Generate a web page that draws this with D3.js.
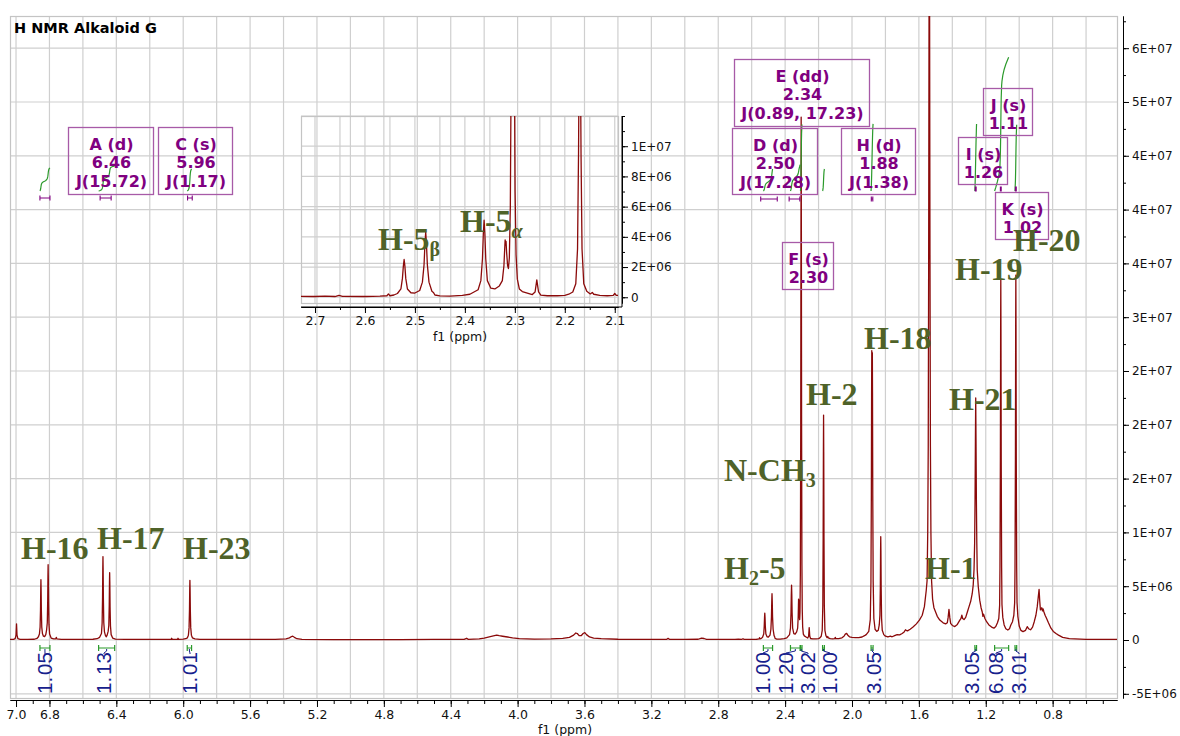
<!DOCTYPE html>
<html lang="en">
<head>
<meta charset="utf-8">
<title>H NMR Alkaloid G</title>
<script src="https://cdn.jsdelivr.net/npm/d3@7"></script>
<style>
  html, body { margin: 0; padding: 0; background: #ffffff; }
  svg { display: block; }
</style>
</head>
<body>
<svg id="chart" width="1180" height="736"></svg>
<script>
// ---------------- data ----------------
// 1H spectrum trace: [chemical shift (ppm), intensity (x 1e6)], high field to the right
const spectrum = [
  [7.036,0.05],[7.015,0.06],[7.005,0.12],[7.0,0.45],[6.997,1.5],[6.994,0.45],[6.989,0.12],[6.975,0.06],[6.93,0.05],[6.89,0.07],
  [6.875,0.14],[6.866,0.3],[6.86,0.55],[6.856,1.2],[6.8535,2.8],[6.852,4.8],[6.851,5.6],[6.85,4.8],[6.8485,2.8],[6.846,1.2],
  [6.842,0.6],[6.836,0.35],[6.829,0.32],[6.822,0.5],[6.817,0.95],[6.813,1.6],[6.8105,3.6],[6.809,6.0],[6.808,7.0],[6.807,6.0],
  [6.8055,3.5],[6.803,1.45],[6.799,0.55],[6.79,0.18],[6.775,0.1],[6.762,0.1],[6.759,0.25],[6.756,0.1],[6.73,0.06],[6.62,0.05],[6.54,0.07],
  [6.515,0.12],[6.5,0.25],[6.489,0.6],[6.485,1.55],[6.4825,3.9],[6.481,6.7],[6.48,7.75],[6.479,6.7],[6.4775,3.9],[6.475,1.6],
  [6.471,0.75],[6.465,0.4],[6.46,0.3],[6.455,0.45],[6.449,0.8],[6.445,1.35],[6.4425,3.15],[6.441,5.4],[6.44,6.25],[6.439,5.4],
  [6.4375,3.1],[6.435,1.3],[6.431,0.5],[6.422,0.18],[6.405,0.08],[6.35,0.06],
  [6.2,0.05],[6.08,0.05],[6.072,0.06],[6.069,0.16],[6.066,0.06],[6.034,0.06],[6.031,0.16],[6.028,0.06],[6.0,0.08],
  [5.985,0.12],[5.975,0.2],[5.969,0.45],[5.965,1.15],[5.9625,2.8],[5.961,4.8],[5.96,5.55],[5.959,4.8],[5.9575,2.8],[5.955,1.15],
  [5.951,0.45],[5.945,0.2],[5.93,0.1],[5.9,0.06],
  [5.8,0.05],[5.6,0.05],[5.45,0.06],[5.385,0.1],[5.365,0.2],[5.352,0.32],[5.345,0.35],[5.335,0.25],[5.32,0.12],[5.29,0.06],
  [5.1,0.04],[4.9,0.03],[4.7,0.04],[4.5,0.05],[4.32,0.06],[4.305,0.16],[4.295,0.06],[4.23,0.1],[4.2,0.18],[4.17,0.3],
  [4.145,0.38],[4.125,0.45],[4.11,0.4],[4.09,0.35],[4.06,0.28],[4.03,0.2],[3.99,0.12],[3.9,0.08],[3.8,0.1],[3.73,0.15],
  [3.69,0.25],[3.665,0.45],[3.652,0.65],[3.643,0.6],[3.632,0.4],[3.62,0.4],[3.608,0.6],[3.598,0.68],[3.588,0.5],[3.57,0.28],
  [3.545,0.18],[3.5,0.12],[3.4,0.07],[3.25,0.05],[3.11,0.05],[3.1,0.15],[3.09,0.05],[3.0,0.05],[2.92,0.07],[2.9,0.18],
  [2.885,0.14],[2.87,0.06],[2.78,0.05],[2.74,0.06],[2.7,0.05],[2.68,0.08],[2.66,0.05],[2.652,0.12],[2.645,0.06],[2.6,0.05],[2.57,0.07],
  [2.556,0.1],[2.553,0.22],[2.55,0.1],[2.542,0.15],[2.535,0.25],[2.528,0.55],[2.525,1.25],[2.5231,2.08],[2.5216,2.5],[2.5201,2.08],
  [2.5183,1.25],[2.515,0.55],[2.508,0.3],[2.5,0.28],[2.4904,0.45],[2.485,1.0],[2.4817,2.15],[2.4799,3.55],[2.4784,4.3],[2.4769,3.55],
  [2.4751,2.15],[2.4718,1.0],[2.466,0.4],[2.463,0.32],[2.46,0.15],[2.45,0.09],[2.43,0.08],[2.405,0.12],[2.39,0.2],
  [2.3735,0.5],[2.368,1.1],[2.3648,2.55],[2.363,4.25],[2.3615,5.1],[2.36,4.25],[2.3582,2.55],[2.355,1.1],[2.348,0.6],[2.34,0.55],
  [2.331,0.75],[2.325,1.1],[2.3218,2.1],[2.3203,3.2],[2.3194,3.8],[2.3185,3.45],[2.3176,3.7],[2.3165,3.0],[2.3145,2.1],[2.3128,1.9],
  [2.311,2.6],[2.309,6.0],[2.3065,20],[2.3052,38],[2.304,48.6],[2.3028,38],[2.3015,20],[2.2995,7],[2.2975,2.8],[2.295,1.2],
  [2.291,0.55],[2.285,0.38],[2.275,0.28],[2.265,0.18],[2.2595,0.35],[2.2575,0.8],[2.256,1.15],[2.2545,0.8],[2.2525,0.35],[2.248,0.14],
  [2.235,0.1],[2.215,0.1],[2.2,0.13],
  [2.192,0.2],[2.184,0.35],[2.178,0.9],[2.1745,3.2],[2.1725,9.5],[2.171,17.5],[2.17,20.9],[2.169,17.5],[2.1675,9.5],[2.1655,3.2],
  [2.162,0.9],[2.156,0.4],[2.149,0.22],[2.145,0.32],[2.142,0.2],[2.13,0.12],[2.115,0.1],[2.103,0.12],[2.1,0.25],[2.097,0.12],
  [2.08,0.13],[2.06,0.2],[2.048,0.35],[2.04,0.55],[2.032,0.62],[2.025,0.45],[2.015,0.3],[2.0,0.25],[1.98,0.22],[1.96,0.22],
  [1.94,0.28],[1.925,0.4],
  [1.915,0.5],[1.8997,0.8],[1.8907,1.9],[1.8867,5.4],[1.8842,13.5],[1.8827,23],[1.8817,26.9],[1.88,26.2],[1.8783,26.7],[1.8773,23],
  [1.8758,13.5],[1.8733,5.4],[1.8693,2.0],[1.862,1.0],[1.852,0.8],[1.843,0.9],[1.837,1.4],[1.833,2.3],[1.8305,4.8],[1.829,8.3],
  [1.828,9.6],[1.827,8.3],[1.8255,4.8],[1.823,2.0],[1.819,0.9],[1.81,0.5],[1.8,0.35],[1.785,0.28],[1.77,0.35],[1.76,0.3],
  [1.745,0.4],[1.73,0.5],[1.715,0.48],[1.7,0.6],[1.688,0.75],[1.68,0.95],[1.676,0.9],[1.668,0.85],[1.652,1.0],[1.635,1.2],
  [1.615,1.5],[1.597,1.85],[1.58,2.3],[1.567,3.1],[1.556,4.6],
  [1.551,5.5],[1.547,10],[1.544,18],[1.5415,35],[1.5395,55],[1.5375,75],[1.5355,55],[1.5335,35],[1.531,18],[1.528,10],
  [1.524,5.5],[1.518,3.8],[1.51,3.0],[1.5,2.6],[1.49,2.2],[1.475,1.85],[1.455,1.6],[1.44,1.5],[1.43,1.6],[1.425,2.1],
  [1.42,2.85],[1.415,2.1],[1.41,1.55],[1.4,1.35],[1.385,1.25],[1.37,1.45],[1.355,1.85],[1.348,2.0],[1.343,2.3],[1.338,2.0],
  [1.33,1.9],[1.32,2.1],[1.31,2.6],[1.3,3.1],[1.29,3.6],[1.281,4.3],[1.275,5.1],[1.27,6.6],[1.2665,9],[1.264,13],
  [1.2618,18.5],[1.26,22.5],[1.2582,18.5],[1.256,13],[1.2535,9],[1.251,6.5],[1.245,5.0],[1.236,3.7],[1.228,3.0],[1.221,2.6],
  [1.217,2.2],[1.213,2.4],[1.205,2.0],[1.195,1.7],[1.181,1.4],[1.165,1.2],[1.151,1.1],[1.14,1.25],[1.13,1.6],
  [1.122,2.0],[1.117,3.2],[1.115,6.7],[1.1125,16.8],[1.111,28.8],[1.11,33.5],[1.109,28.8],[1.1075,16.8],[1.105,6.7],[1.103,3.3],
  [1.098,2.1],[1.09,1.4],[1.08,1.05],[1.068,0.93],[1.058,1.05],[1.05,1.4],[1.04,1.7],[1.032,2.3],[1.027,3.5],[1.025,6.7],
  [1.0225,17],[1.021,29.2],[1.02,33.9],[1.019,29.2],[1.0175,17],[1.015,6.7],[1.013,3.5],[1.008,2.2],[1.0,1.3],[0.99,0.9],
  [0.977,0.78],[0.962,0.9],[0.952,1.24],[0.944,1.05],[0.932,0.95],[0.92,1.2],[0.91,1.7],[0.9,2.3],[0.892,3.1],[0.886,4.0],
  [0.881,4.7],[0.877,3.6],[0.873,2.8],[0.869,2.9],[0.865,3.0],[0.861,2.7],[0.857,2.9],[0.852,2.6],[0.845,2.3],[0.836,2.0],
  [0.825,1.6],[0.81,1.1],[0.796,0.8],[0.78,0.6],[0.765,0.45],[0.74,0.25],[0.7,0.12],[0.6,0.06],[0.5,0.05],[0.415,0.05]
];

// axis ticks
const xTickValues = [7.0, 6.8, 6.4, 6.0, 5.6, 5.2, 4.8, 4.4, 4.0, 3.6, 3.2, 2.8, 2.4, 2.0, 1.6, 1.2, 0.8];
const yTickValues = [-5, 0, 5, 10, 15, 20, 25, 30, 35, 40, 45, 50, 55];
const yTickLabels = ["-5E+06", "0", "5E+06", "1E+07", "2E+07", "2E+07", "2E+07", "3E+07", "4E+07", "4E+07", "4E+07", "5E+07", "6E+07"];
const insetXTickValues = [2.7, 2.6, 2.5, 2.4, 2.3, 2.2, 2.1];
const insetYTickValues = [0, 2, 4, 6, 8, 10];
const insetYTickLabels = ["0", "2E+06", "4E+06", "6E+06", "8E+06", "1E+07"];

// multiplet analysis (J in Hz)
const multiplets = [
  { id: "A", mult: "d",  shift: 6.46, J: [15.72] },
  { id: "C", mult: "s",  shift: 5.96, J: [1.17] },
  { id: "E", mult: "dd", shift: 2.34, J: [0.89, 17.23] },
  { id: "D", mult: "d",  shift: 2.50, J: [17.28] },
  { id: "H", mult: "d",  shift: 1.88, J: [1.38] },
  { id: "F", mult: "s",  shift: 2.30, J: [] },
  { id: "J", mult: "s",  shift: 1.11, J: [] },
  { id: "I", mult: "s",  shift: 1.26, J: [] },
  { id: "K", mult: "s",  shift: 1.02, J: [] }
];
// multiplet ranges (ppm)
const multipletRanges = [
  [6.857, 6.797], [6.497, 6.431], [5.974, 5.946], [2.546, 2.447], [2.376, 2.312],
  [1.8845, 1.8755], [1.2625, 1.2575], [1.1125, 1.1075], [1.0225, 1.0175]
];

// integrals
const integralValues = [1.05, 1.13, 1.01, 1.00, 1.20, 3.02, 1.00, 3.05, 3.05, 6.08, 3.01];
const integralRanges = [
  [6.857, 6.797], [6.506, 6.410], [5.976, 5.950], [2.530, 2.475], [2.368, 2.310], [2.308, 2.299],
  [2.176, 2.165], [1.886, 1.874], [1.265, 1.255], [1.147, 1.063], [1.025, 1.015]
];

// proton assignments
const assignmentMain = ["H-16", "H-17", "H-23", "N-CH|3", "H|2|-5", "H-2", "H-18", "H-21", "H-1", "H-19", "H-20"];
const assignmentInset = ["H-5|β", "H-5|α"];

// ---------------- layout ----------------
const svg = d3.select("#chart");
const plot = { left: 10, right: 1117, top: 16, bottom: 698 };
const inset = { left: 301, right: 618, top: 116, bottom: 303 };

const boxLayout = {
  A: [68, 127, 153, 194], C: [158, 127, 232, 194], E: [734, 59, 869, 126],
  D: [732, 128, 817, 194], H: [841, 128, 915, 194], F: [782, 242, 833, 289],
  J: [983, 88, 1032, 135], I: [958, 137, 1007, 184], K: [995, 192, 1048, 239]
};
const rangeBarY = [198, 198, 198, 199, 199, 199, 189, 189, 189];
const integralTextX = [45, 104, 190, 763, 786, 808, 830, 874, 972, 996, 1019];
const mainLabelPos = [[21, 559], [97, 549], [183, 559], [724, 481], [724, 579], [806, 405],
                      [864, 349], [949, 410], [925, 579], [955, 280], [1013, 251]];
const insetLabelPos = [[378, 250], [460, 232]];

const COLORS = {
  trace: "#8b0a0a", grid: "#cfcfcf", frame: "#c4c4c4", axis: "#000",
  purple: "#800080", boxLine: "#a75aa7", green: "#2b9a2b", blue: "#16208c", olive: "#4f6228"
};
const AXIS_FONT = "'DejaVu Sans', Verdana, sans-serif";
const SERIF = "'Liberation Serif', 'Times New Roman', serif";

// ---------------- scales ----------------
const x = d3.scaleLinear().domain([7.036, 0.415]).range([plot.left, plot.right]);
const y = d3.scaleLinear().domain([-5.39, 57.99]).range([plot.bottom, plot.top]);
const xi = d3.scaleLinear().domain([2.728, 2.0935]).range([inset.left, inset.right]);
const yi = d3.scaleLinear().domain([-0.38, 12.0]).range([inset.bottom, inset.top]);

const defs = svg.append("defs");
defs.append("clipPath").attr("id", "clipMain").append("rect")
  .attr("x", plot.left).attr("y", plot.top).attr("width", plot.right - plot.left).attr("height", plot.bottom - plot.top);
defs.append("clipPath").attr("id", "clipInset").append("rect")
  .attr("x", inset.left).attr("y", inset.top).attr("width", inset.right - inset.left).attr("height", inset.bottom - inset.top);

// ---------------- main grid ----------------
const gridX = d3.range(0, 33).map(k => +(7.0 - 0.2 * k).toFixed(1));
const gridY = d3.range(-5, 56, 5);
const grid = svg.append("g");
grid.selectAll("line.v").data(gridX).join("line")
  .attr("x1", d => x(d)).attr("x2", d => x(d)).attr("y1", plot.top).attr("y2", plot.bottom)
  .attr("stroke", COLORS.grid).attr("stroke-width", 1.2);
grid.selectAll("line.h").data(gridY).join("line")
  .attr("x1", plot.left).attr("x2", plot.right).attr("y1", d => y(d)).attr("y2", d => y(d))
  .attr("stroke", COLORS.grid).attr("stroke-width", 1.2);
svg.append("rect").attr("x", plot.left + 0.5).attr("y", plot.top + 0.5)
  .attr("width", plot.right - plot.left).attr("height", plot.bottom - plot.top)
  .attr("fill", "none").attr("stroke", COLORS.frame).attr("stroke-width", 1.2);

// ---------------- main axes ----------------
function styleAxis(g, size) {
  g.selectAll("text").attr("font-family", AXIS_FONT).attr("font-size", size).attr("fill", "#111");
  g.selectAll("line").attr("stroke", COLORS.axis);
  g.select(".domain").attr("stroke", COLORS.axis);
}
const minorX = d3.range(0, 67).map(k => +(7.0 - 0.1 * k).toFixed(1)).filter(v => v >= 0.42);
svg.append("g").attr("transform", `translate(0,${plot.bottom + 2})`)
  .call(d3.axisBottom(x).tickValues(minorX).tickFormat("").tickSize(4).tickSizeOuter(0))
  .call(g => styleAxis(g, 12));
svg.append("g").attr("transform", `translate(0,${plot.bottom + 2})`)
  .call(d3.axisBottom(x).tickValues(xTickValues).tickFormat(d3.format(".1f")).tickSize(7).tickSizeOuter(0).tickPadding(3))
  .call(g => styleAxis(g, 12.5));
svg.append("text").attr("x", 565).attr("y", 734).attr("text-anchor", "middle")
  .attr("font-family", AXIS_FONT).attr("font-size", 12.5).attr("fill", "#111").text("f1 (ppm)");

const axisRX = plot.right + 6;
svg.append("g").attr("transform", `translate(${axisRX},0)`)
  .call(d3.axisRight(y).tickValues(d3.range(-5, 58, 2.5)).tickFormat("").tickSize(3).tickSizeOuter(0))
  .call(g => styleAxis(g, 12));
svg.append("g").attr("transform", `translate(${axisRX},0)`)
  .call(d3.axisRight(y).tickValues(yTickValues).tickFormat((d, i) => yTickLabels[i]).tickSize(6).tickSizeOuter(0).tickPadding(3))
  .call(g => styleAxis(g, 12));

// ---------------- main trace ----------------
const line = d3.line().x(d => x(d[0])).y(d => y(d[1]));
svg.append("path").datum(spectrum).attr("clip-path", "url(#clipMain)")
  .attr("d", line).attr("fill", "none").attr("stroke", COLORS.trace)
  .attr("stroke-width", 1.3).attr("stroke-linejoin", "round");

// ---------------- title ----------------
svg.append("text").attr("x", 14).attr("y", 33)
  .attr("font-family", AXIS_FONT).attr("font-weight", "bold").attr("font-size", 14.5)
  .attr("fill", "#000").text("H NMR Alkaloid G");

// ---------------- integrals ----------------
function valueAt(p) {
  for (let i = 1; i < spectrum.length; i++) {
    const a = spectrum[i - 1], b = spectrum[i];
    if (p <= a[0] && p >= b[0]) return a[1] + (b[1] - a[1]) * (a[0] - p) / (a[0] - b[0]);
  }
  return 0;
}
function cumulativeCurve([from, to]) {
  const pts = [[from, valueAt(from)], ...spectrum.filter(d => d[0] < from && d[0] > to), [to, valueAt(to)]];
  let acc = 0;
  const out = [[pts[0][0], 0]];
  for (let i = 1; i < pts.length; i++) {
    acc += (pts[i - 1][0] - pts[i][0]) * (pts[i - 1][1] + pts[i][1]) / 2;
    out.push([pts[i][0], acc]);
  }
  return out.map(d => [d[0], d[1] / acc]);
}
const integralTop = 191, pxPerUnit = 22;
const integG = svg.append("g");
integralRanges.forEach((r, i) => {
  const yc = d3.scaleLinear().domain([0, 1]).range([integralTop, integralTop - integralValues[i] * pxPerUnit]);
  integG.append("path").datum(cumulativeCurve(r))
    .attr("d", d3.line().x(d => x(d[0])).y(d => yc(d[1])))
    .attr("fill", "none").attr("stroke", COLORS.green).attr("stroke-width", 1.2);
});

// bottom integral marks: bar, leader and rotated value
const barY = 648;
integralRanges.forEach((r, i) => {
  const x0 = x(r[0]), x1 = x(r[1]), xc = (x0 + x1) / 2, tx = integralTextX[i];
  const g = svg.append("g");
  g.append("path").attr("d", `M${x0},${barY - 3}V${barY + 3}M${x0},${barY}H${x1}M${x1},${barY - 3}V${barY + 3}`)
    .attr("fill", "none").attr("stroke", COLORS.green).attr("stroke-width", 1.2);
  g.append("path").attr("d", `M${xc},${barY + 1}L${xc},${barY + 3}L${tx},${barY + 5}L${tx},${barY + 6}`)
    .attr("fill", "none").attr("stroke", COLORS.blue).attr("stroke-width", 1);
  const parts = integralValues[i].toFixed(2).split(".");
  const t = g.append("text").attr("transform", `translate(${tx},694) rotate(-90)`)
    .attr("dy", "0.36em").attr("font-family", "'Liberation Sans', Arial, sans-serif")
    .attr("font-size", 20.5).attr("fill", COLORS.blue);
  t.append("tspan").text(parts[0] + ".");
  t.append("tspan").attr("dx", 2).text(parts[1]);
});

// ---------------- multiplet boxes ----------------
multipletRanges.forEach((r, i) => {
  const x0 = x(r[0]), x1 = x(r[1]), yy = rangeBarY[i];
  svg.append("path").attr("d", `M${x0},${yy - 2.5}V${yy + 2.5}M${x0},${yy}H${x1}M${x1},${yy - 2.5}V${yy + 2.5}`)
    .attr("fill", "none").attr("stroke", COLORS.purple).attr("stroke-width", 1.1);
});
multiplets.forEach(m => {
  const [x0, y0, x1, y1] = boxLayout[m.id];
  const g = svg.append("g");
  g.append("rect").attr("x", x0 + 0.5).attr("y", y0 + 0.5).attr("width", x1 - x0).attr("height", y1 - y0)
    .attr("fill", "none").attr("stroke", COLORS.boxLine).attr("stroke-width", 1.3);
  const lines = [`${m.id} (${m.mult})`, m.shift.toFixed(2)];
  if (m.J.length) lines.push(`J(${m.J.map(v => v.toFixed(2)).join(", ")})`);
  lines.forEach((s, k) => {
    g.append("text").attr("x", (x0 + x1) / 2 + 1).attr("y", y0 + 22.7 + k * 18.7)
      .attr("text-anchor", "middle").attr("font-family", AXIS_FONT).attr("font-weight", "bold")
      .attr("font-size", 16).attr("fill", COLORS.purple).text(s);
  });
});

// ---------------- assignment labels ----------------
function assignmentLabel(parent, spec, pos, subItalic) {
  const parts = spec.split("|");
  const t = parent.append("text").attr("x", pos[0]).attr("y", pos[1])
    .attr("font-family", SERIF).attr("font-weight", "bold").attr("font-size", 32).attr("fill", COLORS.olive);
  t.append("tspan").text(parts[0]);
  if (parts.length > 1) {
    const sub = t.append("tspan").attr("font-size", 20).attr("dy", 6).text(parts[1]);
    if (subItalic && parts[1] === "α") sub.attr("font-style", "italic");
    if (parts.length > 2) t.append("tspan").attr("dy", -6).text(parts[2]);
  }
}
assignmentMain.forEach((s, i) => assignmentLabel(svg, s, mainLabelPos[i], false));

// ---------------- inset (2.7 - 2.1 ppm expansion) ----------------
const ig = svg.append("g");
const insetGridX = d3.range(0, 13).map(k => +(2.7 - 0.05 * k).toFixed(2));
ig.selectAll("line.v").data(insetGridX).join("line")
  .attr("x1", d => xi(d)).attr("x2", d => xi(d)).attr("y1", inset.top).attr("y2", inset.bottom)
  .attr("stroke", COLORS.grid).attr("stroke-width", 1.2);
ig.selectAll("line.h").data(d3.range(0, 13, 2)).join("line")
  .attr("x1", inset.left).attr("x2", inset.right).attr("y1", d => yi(d)).attr("y2", d => yi(d))
  .attr("stroke", COLORS.grid).attr("stroke-width", 1.2);
ig.append("rect").attr("x", inset.left + 0.5).attr("y", inset.top + 0.5)
  .attr("width", inset.right - inset.left).attr("height", inset.bottom - inset.top)
  .attr("fill", "none").attr("stroke", COLORS.frame).attr("stroke-width", 1.2);

const insetAxisY = inset.bottom + 4, insetAxisX = inset.right + 4;
ig.append("g").attr("transform", `translate(0,${insetAxisY})`)
  .call(d3.axisBottom(xi).tickValues(d3.range(0, 13).map(k => +(2.7 - 0.05 * k).toFixed(2))).tickFormat("").tickSize(3).tickSizeOuter(0))
  .call(g => styleAxis(g, 12));
ig.append("g").attr("transform", `translate(0,${insetAxisY})`)
  .call(d3.axisBottom(xi).tickValues(insetXTickValues).tickFormat(d3.format(".1f")).tickSize(6).tickSizeOuter(0).tickPadding(3))
  .call(g => styleAxis(g, 12.5));
ig.append("line").attr("x1", inset.left).attr("x2", insetAxisX).attr("y1", insetAxisY).attr("y2", insetAxisY)
  .attr("stroke", COLORS.axis);
ig.append("text").attr("x", 460).attr("y", 341).attr("text-anchor", "middle")
  .attr("font-family", AXIS_FONT).attr("font-size", 12.5).attr("fill", "#111").text("f1 (ppm)");

ig.append("g").attr("transform", `translate(${insetAxisX},0)`)
  .call(d3.axisRight(yi).tickValues(d3.range(0, 13, 1)).tickFormat("").tickSize(3).tickSizeOuter(0))
  .call(g => styleAxis(g, 12));
ig.append("g").attr("transform", `translate(${insetAxisX},0)`)
  .call(d3.axisRight(yi).tickValues(insetYTickValues).tickFormat((d, i) => insetYTickLabels[i]).tickSize(6).tickSizeOuter(0).tickPadding(3))
  .call(g => styleAxis(g, 12));
ig.append("line").attr("x1", insetAxisX).attr("x2", insetAxisX).attr("y1", inset.top).attr("y2", insetAxisY)
  .attr("stroke", COLORS.axis);

const insetData = spectrum.filter(d => d[0] <= 2.75 && d[0] >= 2.07);
ig.append("path").datum(insetData).attr("clip-path", "url(#clipInset)")
  .attr("d", d3.line().x(d => xi(d[0])).y(d => yi(d[1])))
  .attr("fill", "none").attr("stroke", COLORS.trace).attr("stroke-width", 1.3).attr("stroke-linejoin", "round");

assignmentInset.forEach((s, i) => assignmentLabel(ig, s, insetLabelPos[i], true));
</script>
</body>
</html>
